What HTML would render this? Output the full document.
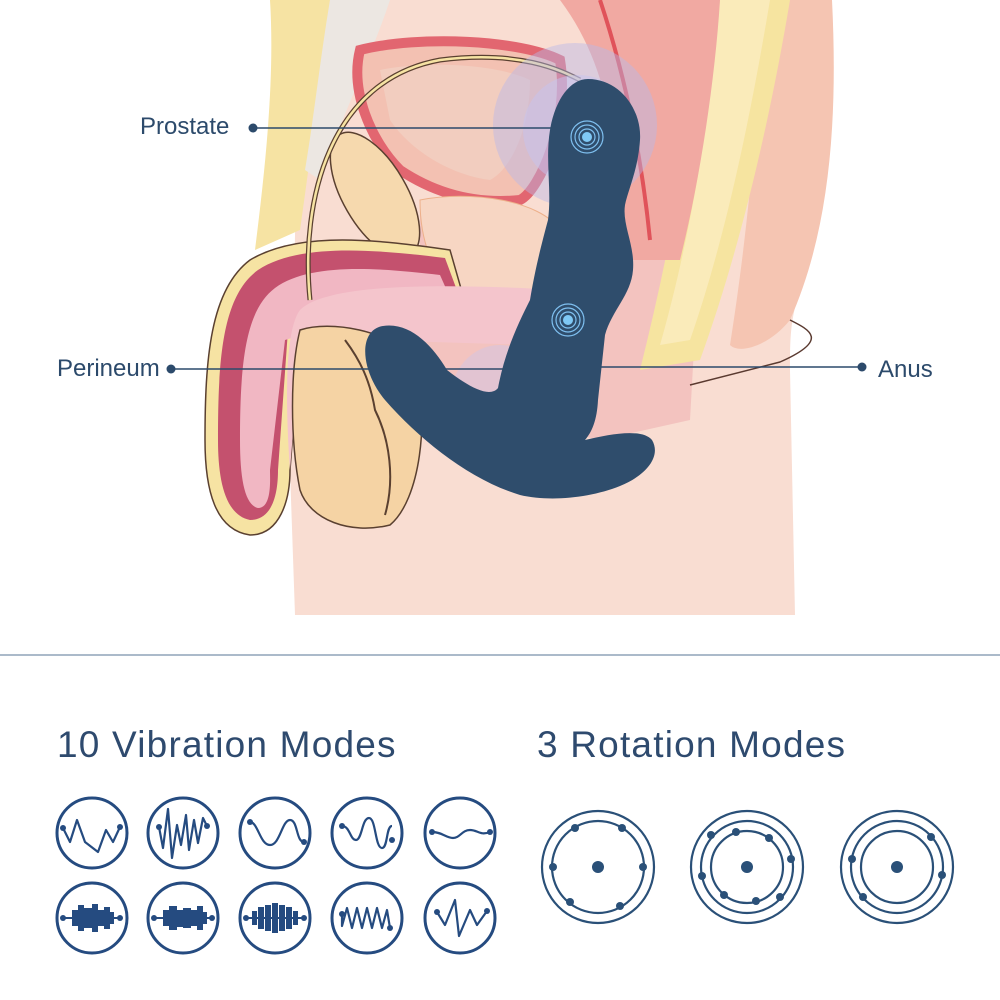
<!DOCTYPE html>
<html><head><meta charset="utf-8"><style>
html,body{margin:0;padding:0;background:#fff;}
svg{display:block}
text{font-family:"Liberation Sans",sans-serif;}
</style></head><body>
<svg width="1000" height="1000" viewBox="0 0 1000 1000" xmlns="http://www.w3.org/2000/svg">
<path d="M300,0 L830,0 C835,100 830,200 800,290 C790,320 790,340 790,370 L795,615 L295,615 L290,470 L300,0Z" fill="#f9ddd2"/>
<!-- pelvic pink tissue -->
<path d="M420,200 L700,240 L690,420 L600,440 L420,400Z" fill="#f3c3bf"/>
<path d="M760,0 L832,0 C838,120 830,230 790,320 C770,345 740,355 730,345 C745,250 760,120 760,0Z" fill="#f5c5b2"/>
<path d="M790,320 C810,330 830,340 780,362 L690,385" stroke="#5a3a30" stroke-width="1.5" fill="none"/>
<path d="M700,0 L790,0 C770,120 740,250 700,360 L640,370 C670,250 695,120 700,0Z" fill="#f6e4a0"/>
<path d="M720,0 L770,0 C750,120 725,240 690,340 L660,345 C690,240 710,120 720,0Z" fill="#fbecc0" opacity="0.8"/>
<path d="M560,0 L720,0 C715,80 700,180 680,260 L610,260 C620,180 620,80 560,0Z" fill="#f1a9a2"/>
<path d="M600,0 C620,60 640,140 650,240" stroke="#e0535a" stroke-width="4" fill="none"/>
<path d="M270,0 L330,0 C320,80 310,160 300,230 L255,250 C265,170 275,80 270,0Z" fill="#f6e3a3"/>
<path d="M330,0 L390,0 C370,60 340,120 320,180 L305,170 C315,110 320,60 330,0Z" fill="#ece7e2"/>
<path d="M360,50 C420,35 520,40 560,60 C570,120 540,190 520,200 C470,205 430,190 400,170 C370,140 350,90 360,50Z" fill="#f3c1b2" stroke="#e26670" stroke-width="10"/>
<path d="M380,70 C430,60 500,65 530,80 C530,130 510,170 490,180 C450,175 410,150 390,120Z" fill="#f2cdbf"/>
<path d="M420,200 C470,190 540,200 560,230 C570,270 540,300 480,300 C440,295 420,250 420,200Z" fill="#f7d6c3" stroke="#edb08a" stroke-width="1"/>
<ellipse cx="375" cy="195" rx="32" ry="70" transform="rotate(-30 375 195)" fill="#f6d9ae" stroke="#5a4030" stroke-width="1.5"/>
<path d="M450,250 C380,240 300,230 250,260 C210,290 205,360 205,440 C205,490 215,530 250,535 C280,535 290,500 290,470 L300,340 C330,320 400,330 470,320Z" fill="#f6e3a3" stroke="#5a4030" stroke-width="1.5"/>
<path d="M445,258 C380,250 300,242 258,270 C222,296 218,360 218,440 C218,480 225,515 250,520 C272,520 278,495 278,470 L288,330 C330,310 400,320 465,312Z" fill="#c4516e"/>
<path d="M440,275 C380,268 310,262 275,288 C246,310 240,360 240,440 C240,480 245,505 258,508 C272,508 270,480 270,470 L285,340 C330,325 400,330 460,320Z" fill="#f1b7c3"/>
<path d="M560,290 C470,285 330,280 300,310 C285,330 285,400 290,470 L300,345 C340,335 450,345 580,345Z" fill="#f4c5cc"/>
<path d="M300,330 C330,320 390,330 415,360 C430,420 420,500 390,525 C350,535 310,520 300,490 C290,440 290,370 300,330Z" fill="#f5d3a4" stroke="#5a4030" stroke-width="1.5"/>
<path d="M345,340 C360,360 370,380 375,410 C390,440 395,480 385,515" stroke="#5a4030" stroke-width="2" fill="none"/>
<path d="M310,300 C300,200 330,80 440,60 C520,50 560,70 580,80" stroke="#5a4030" stroke-width="5" fill="none"/>
<path d="M310,300 C300,200 330,80 440,60 C520,50 560,70 580,80" stroke="#f6e3a3" stroke-width="2.5" fill="none"/>
<circle cx="575" cy="125" r="82" fill="#b9b8e8" opacity="0.45"/>
<circle cx="578" cy="130" r="55" fill="#c6c4ef" opacity="0.5"/>
<ellipse cx="500" cy="400" rx="50" ry="55" fill="#c8c6ef" opacity="0.4"/>
<line x1="253" y1="128" x2="560" y2="128" stroke="#2c4a6b" stroke-width="1.6"/>
<circle cx="253" cy="128" r="4.5" fill="#2c4a6b"/>
<line x1="171" y1="369" x2="520" y2="369" stroke="#2c4a6b" stroke-width="1.6"/>
<circle cx="171" cy="369" r="4.5" fill="#2c4a6b"/>
<line x1="590" y1="367" x2="862" y2="367" stroke="#2c4a6b" stroke-width="1.6"/>
<circle cx="862" cy="367" r="4.5" fill="#2c4a6b"/>
<path d="M588,79 C620,79 642,110 640,140 C638,170 628,190 625,205 C622,225 635,245 633,270 C631,295 612,310 605,335 L598,400 C597,420 592,432 585,440 C610,434 642,428 652,440 C662,457 645,476 620,486 C590,498 550,502 520,495 C470,480 420,440 385,400 C360,370 358,330 383,326 C410,322 432,345 447,370 C470,388 490,398 498,388 C505,350 520,320 530,300 C535,270 540,250 548,220 C552,190 545,160 550,130 C555,100 570,79 588,79Z" fill="#2f4d6c"/>
<g fill="none" stroke="#7fc0f0" stroke-width="1.2">
<circle cx="587" cy="137" r="8"/><circle cx="587" cy="137" r="12"/><circle cx="587" cy="137" r="16"/>
<circle cx="568" cy="320" r="8"/><circle cx="568" cy="320" r="12"/><circle cx="568" cy="320" r="16"/>
</g>
<circle cx="587" cy="137" r="5" fill="#7fc8f5"/>
<circle cx="568" cy="320" r="5" fill="#7fc8f5"/>
<rect x="0" y="615" width="1000" height="40" fill="#fff"/>
<text x="140" y="134" font-size="24" fill="#2c4a6b">Prostate</text>
<text x="57" y="376" font-size="24" fill="#2c4a6b">Perineum</text>
<text x="878" y="377" font-size="24" fill="#2c4a6b">Anus</text>
<line x1="0" y1="655" x2="1000" y2="655" stroke="#8fa4b8" stroke-width="1.5"/>
<text x="57" y="757" font-size="37" letter-spacing="1.2" fill="#2e4a6e">10 Vibration Modes</text>
<text x="537" y="757" font-size="37" letter-spacing="1.2" fill="#2e4a6e">3 Rotation Modes</text>
<g fill="none" stroke="#254b80" stroke-width="3">
<circle cx="92" cy="833" r="35"/><circle cx="183" cy="833" r="35"/><circle cx="275" cy="833" r="35"/><circle cx="367" cy="833" r="35"/><circle cx="460" cy="833" r="35"/>
<circle cx="92" cy="918" r="35"/><circle cx="183" cy="918" r="35"/><circle cx="275" cy="918" r="35"/><circle cx="367" cy="918" r="35"/><circle cx="460" cy="918" r="35"/>
</g>
<g fill="none" stroke="#254b80" stroke-width="2.2" stroke-linejoin="round">
<path d="M63,828 L70,842 L77,820 L85,842 L98,852 L106,830 L113,842 L120,827"/>
<path d="M159,827 L163,848 L168,809 L172,858 L177,825 L181,845 L186,815 L189,850 L194,820 L198,843 L203,818 L207,826"/>
<path d="M250,822 C258,822 260,845 270,845 C280,845 282,820 290,820 C298,820 296,842 304,842"/>
<path d="M342,826 C350,826 350,840 356,840 C362,840 362,818 369,818 C376,818 375,848 382,848 C388,848 386,826 392,826"/>
<path d="M432,832 C442,832 446,838 453,838 C460,838 462,830 470,830 C478,830 480,836 490,832"/>
<path d="M342,914 L342,926 L347,908 L352,928 L357,908 L362,928 L367,908 L372,928 L377,908 L382,928 L387,910 L390,928"/>
<path d="M437,912 L445,925 L455,900 L459,936 L470,910 L477,925 L487,911"/>
</g>
<g fill="#254b80">
<circle cx="63" cy="828" r="3"/><circle cx="120" cy="827" r="3"/>
<circle cx="159" cy="827" r="3"/><circle cx="207" cy="826" r="3"/>
<circle cx="250" cy="822" r="3"/><circle cx="304" cy="842" r="3"/>
<circle cx="342" cy="826" r="3"/><circle cx="392" cy="840" r="3"/>
<circle cx="432" cy="832" r="3"/><circle cx="490" cy="832" r="3"/>
<circle cx="342" cy="914" r="3"/><circle cx="390" cy="928" r="3"/>
<circle cx="437" cy="912" r="3"/><circle cx="487" cy="911" r="3"/>
<circle cx="63" cy="918" r="3"/><circle cx="120" cy="918" r="3"/>
<circle cx="154" cy="918" r="3"/><circle cx="212" cy="918" r="3"/>
<circle cx="246" cy="918" r="3"/><circle cx="304" cy="918" r="3"/>
<rect x="63" y="917" width="57" height="2"/><rect x="154" y="917" width="58" height="2"/><rect x="246" y="917" width="58" height="2"/>
<rect x="72" y="910" width="6" height="16"/><rect x="78" y="905" width="6" height="26"/><rect x="84" y="908" width="8" height="20"/><rect x="92" y="904" width="6" height="28"/><rect x="98" y="910" width="6" height="16"/><rect x="104" y="907" width="6" height="22"/><rect x="110" y="912" width="4" height="12"/>
<rect x="163" y="910" width="6" height="16"/><rect x="169" y="906" width="8" height="24"/><rect x="177" y="910" width="6" height="17"/><rect x="183" y="908" width="8" height="20"/><rect x="191" y="910" width="6" height="16"/><rect x="197" y="906" width="6" height="24"/><rect x="203" y="912" width="4" height="12"/>
<rect x="252" y="911" width="5" height="14"/><rect x="258" y="907" width="6" height="22"/><rect x="265" y="905" width="6" height="26"/><rect x="272" y="903" width="6" height="30"/><rect x="279" y="905" width="6" height="26"/><rect x="286" y="907" width="6" height="22"/><rect x="293" y="911" width="5" height="14"/>
</g>
<g fill="none" stroke="#2a5078" stroke-width="2.2">
<circle cx="598" cy="867" r="56"/><circle cx="598" cy="867" r="46"/>
<circle cx="747" cy="867" r="56"/><circle cx="747" cy="867" r="46"/><circle cx="747" cy="867" r="36"/>
<circle cx="897" cy="867" r="56"/><circle cx="897" cy="867" r="46"/><circle cx="897" cy="867" r="36"/>
</g>
<g fill="#2a5078">
<circle cx="598" cy="867" r="6"/><circle cx="747" cy="867" r="6"/><circle cx="897" cy="867" r="6"/>
<circle cx="575" cy="828" r="4"/><circle cx="622" cy="828" r="4"/><circle cx="553" cy="867" r="4"/><circle cx="643" cy="867" r="4"/><circle cx="570" cy="902" r="4"/><circle cx="620" cy="906" r="4"/>
<circle cx="711" cy="835" r="4"/><circle cx="736" cy="832" r="4"/><circle cx="769" cy="838" r="4"/><circle cx="791" cy="859" r="4"/><circle cx="702" cy="876" r="4"/><circle cx="724" cy="895" r="4"/><circle cx="756" cy="901" r="4"/><circle cx="780" cy="897" r="4"/>
<circle cx="931" cy="837" r="4"/><circle cx="852" cy="859" r="4"/><circle cx="942" cy="875" r="4"/><circle cx="863" cy="897" r="4"/>
</g>
</svg>
</body></html>
